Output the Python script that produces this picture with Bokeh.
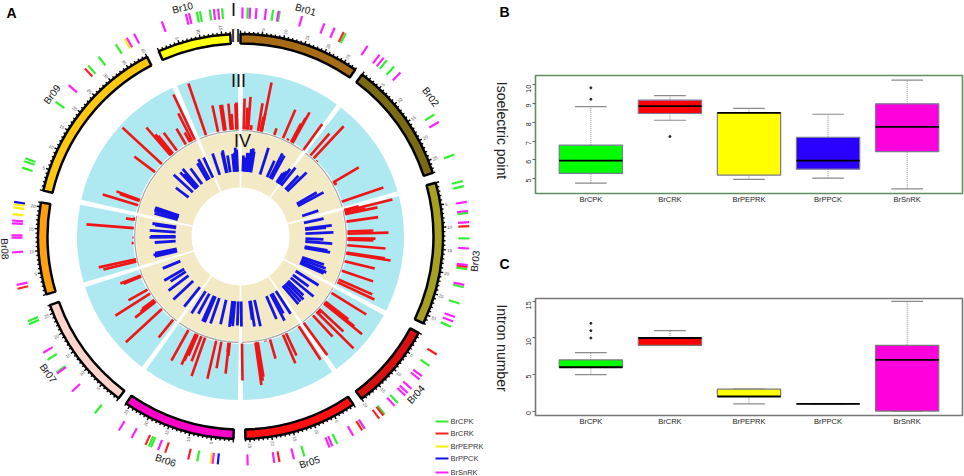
import math
from bokeh.plotting import figure
from bokeh.layouts import row, column
from bokeh.models import FactorRange, FixedTicker
from bokeh.embed import file_html
from bokeh.resources import INLINE
from bokeh.core.properties import value

# ---------- Panel A data ----------
chrom_names = ["Br01","Br02","Br03","Br04","Br05","Br06","Br07","Br08","Br09","Br10"]
chrom_start = [0.0,36.9,74.6,118.4,146.1,182.0,217.0,253.4,283.1,336.2]
chrom_end = [34.5,71.7,115.4,143.3,178.6,214.4,250.2,279.7,332.5,357.1]
chrom_mb = [28,28,32,20,26,26,27,21,40,17]
chrom_colors = ["#a86c14","#7a6a10","#a8a020","#d81010","#ff1010","#ff00c8","#ffd4cc","#ffa010","#ffc810","#ffff10"]
chrom_label_angle = [16,53.7,96,132,163,198.5,234.6,267,307,345.8]
track_gap_centers = [0,37,74.8,117.9,145,180,216.2,252.8,282.1,336.3,360]

red_angle = [341.2,347.9,351.2,352.0,354.8,358.3,357.8,355.8,
    334.7,333.2,329.3,332.3,331.8,323.5,319.2,320.2,320.8,319.7,312.7,307,290,289.4,287,
    279,279.5,274.5,269.5,266.5,257.7,256.5,
    248.6,248.0,240.3,237.7,232.4,233.1,233.7,227.3,219,
    212.8,209.1,204.7,204.3,203.6,199.3,201.4,193.1,190.3,186.2,186.4,185.8,
    179.2,172,171.2,170.7,164,156.6,154.8,166.6,147,
    143.8,137.4,134.7,132.7,128.8,128.3,127.5,121.8,133.9,
    115.2,113.7,108.7,103.4,99.1,98.6,94.7,91.7,90.9,88.5,87.4,82,78,77.4,76.3,75.7,
    71.1,59.7,43.1,40.8,45.4,61,
    36,29.1,28.8,28.2,23.4,18.4,26,11.4,9.4,11.4,10.8,4.1,1.7,3.1,5.6]
red_radius = [161.6,134,133,133,133.5,134,133,123,
    157,138,125.5,112,118,129,144,133,130,128,160.6,133,132,128,144,
    116,109,154.5,108,109,145,141,
    129,126,129,148,133,125,122,156,130,
    107,142,141,136,130,148,134,146,134,138,116,120,
    144,150,146,142,127,138,131.5,108,147,
    147,136,159,140,156,145,136,148,111,
    148,144,140,138,152,146,145.5,133,135,148,133,139,140,128,156.4,122,
    151,137,151,136,108,110,
    139,142,135,128,138,114,109,157,135,126,122,140,138,129,112]

blue_angle = [341.4,348.2,347.5,350.9,354.5,355.8,357.4,356.6,
    334.9,331.4,329.5,323.7,319.5,316.8,317.8,312.8,307,288.8,288.0,287.4,286.8,285,
    278.4,277.6,273.8,270,269.4,266,256.9,258,259,
    247.7,240,237.3,233.1,226.8,218.7,
    212.5,208.6,204.1,202.7,203.4,199,192.8,187,185,186,182,
    179.4,171.2,172,167.5,156.5,152.4,147,150.8,
    139.5,137.3,135,133,129.4,126.3,122,
    114,112.7,110.6,108.6,100,99,94.4,92,87.5,83,84,77.8,
    71.6,62,60,45.9,43.6,38.6,
    36.3,35.4,34.6,33.8,28.5,26.8,24.1,17.5,8.4,9.2,7.2,6.2,4.8,5.6,2.1,3.4]
blue_radius = [87.6,88,86,82,83,84,87,89,
    87,88,85,84.4,89,88,84,91,81,90,90,89,90,89,
    89,86,91,90,91,86,88,89,87,
    84,88,83,90,92,90,
    91,88,93,93,90,92,90,91,90,88,89,
    90,91,84,92,90,95,92,88,
    89,88.5,89,86,94.5,84.4,92,
    91,93,91,88,91,88,92,83,93,92,86,85,
    82,94,88,92,84,88,
    84,80,78,76,92,93,83,93,89,86,88,84,84,80,81,79]

cpk_angle = [349.0,349.8,352.3,355.4,1.8,8.2,9.9,27.4,39.7,42.1,57.8,69,76,77.3,84.1,90.5,98.2,102.8,107,113.2,
    124.4,136.6,141,147.2,155,163.8,190.9,203.0,203.6,219.5,233.5,237.4,247.5,248.3,287.5,289.2,290,306.1,318.3,321.7,327]
crk_angle = [26.8,87.4,97.6,121,142.7,141.4,147.9,170.2,193.2,199.2,204.5,256.8,317.2]
pep_angle = [187.5,275.6,277.3,278.1,329.6]
ppck_angle = [185.7,278.7]
snrk_angle = [339.9,346.2,347,353.3,354.4,0.5,2.4,4,6.4,9.6,15.6,21.5,24.3,33.7,37.4,38.7,44.3,60,81.3,83.6,86.4,93,97.2,102.2,110.6,111.8,
    127.6,128.6,131.7,133.1,134,137.7,147.1,150.5,156.3,157.1,166.5,171.5,178.2,187,201.1,208.4,212.1,227.4,233.2,239.5,257.8,266,
    269.7,270.3,273.3,274,311.4,330.2,332.3]

legend_names = ["BrCPK","BrCRK","BrPEPRK","BrPPCK","BrSnRK"]
legend_colors = ["#30f030","#ff2020","#ffee00","#1010e8","#ff20ff"]
legend_y = [421,433,446,458,472]

# ---------- Panels B / C data ----------
families = ["BrCPK","BrCRK","BrPEPRK","BrPPCK","BrSnRK"]
box_colors = ["#00ff00","#ff0000","#ffff00","#2a00ff","#ff00dc"]
pi_low = [4.75,8.11,4.95,5.02,4.45]
pi_q1 = [5.27,8.47,5.18,5.50,6.44]
pi_med = [5.96,8.86,8.50,5.96,7.76]
pi_q3 = [6.78,9.18,8.52,7.20,8.99]
pi_high = [8.84,9.43,8.74,8.43,10.25]
pi_out_family = ["BrCPK","BrCPK","BrCRK"]
pi_out_value = [9.23,9.84,7.24]
pi_ticks = [5,6,7,8,9,10]

in_low = [5,9,1,1,0]
in_q1 = [6,9,2,1,0]
in_med = [6,10,2,1,7]
in_q3 = [7,10,3,1,9]
in_high = [8,11,3,1,15]
in_out_family = ["BrCPK","BrCPK","BrCPK"]
in_out_value = [10,11,12]
in_ticks = [0,5,10,15]

side_titles = ["Isoelectric point", "Intron number"]
side_letters = ["B", "C"]

# ---------- helpers ----------
def polar(theta, r):
    a = math.radians(theta)
    return r * math.sin(a), r * math.cos(a)

def radial(fig, angles, r0, r1s, color, width):
    x0, y0, x1, y1 = [], [], [], []
    for i, t in enumerate(angles):
        r1 = r1s[i] if isinstance(r1s, list) else r1s
        a, b = polar(t, r0)
        c, d = polar(t, r1)
        x0.append(a); y0.append(b); x1.append(c); y1.append(d)
    fig.segment(x0, y0, x1, y1, line_color=color, line_width=width)

# ---------- Panel A ----------
pa = figure(width=490, height=476, x_range=(-240, 250), y_range=(-240, 236),
            output_backend="svg", toolbar_location=None, min_border=0)
pa.axis.visible = False
pa.grid.visible = False
pa.outline_line_color = None

half_gap = 0.9
t_start = [track_gap_centers[i] + half_gap for i in range(10)]
t_end = [track_gap_centers[i + 1] - half_gap for i in range(10)]
tm_start = [math.radians(90 - e) for e in t_end]
tm_end = [math.radians(90 - s) for s in t_start]
pa.annular_wedge(0, 0, inner_radius=107.5, outer_radius=163.5, start_angle=tm_start, end_angle=tm_end,
                 fill_color="#aee9f1", line_color=None)
pa.annular_wedge(0, 0, inner_radius=49, outer_radius=104.5, start_angle=tm_start, end_angle=tm_end,
                 fill_color="#f3e9c4", line_color=None)
pa.arc(0, 0, radius=105.8, start_angle=tm_start, end_angle=tm_end, line_color="#a8a8a8", line_width=1.3)

radial(pa, red_angle, 107, red_radius, "#f01414", 2.6)
radial(pa, blue_angle, 65, blue_radius, "#1414e6", 2.8)

cm_start = [math.radians(90 - e) for e in chrom_end]
cm_end = [math.radians(90 - s) for s in chrom_start]
pa.annular_wedge(0, 0, inner_radius=193, outer_radius=202.5, start_angle=cm_start, end_angle=cm_end,
                 fill_color=chrom_colors, line_color="black", line_width=2.5)

tick_minor, tick_major, lab_x, lab_y, lab_t, lab_a, lab_al = [], [], [], [], [], [], []
for s, e, mb in zip(chrom_start, chrom_end, chrom_mb):
    for m in range(0, mb + 1):
        t = s + (e - s) * m / mb
        if m % 5 == 0:
            tick_major.append(t)
            if m > 0:
                x, y = polar(t, 207)
                lab_x.append(x); lab_y.append(y); lab_t.append(str(m))
                if t < 180:
                    lab_a.append(math.radians(90 - t)); lab_al.append("left")
                else:
                    lab_a.append(math.radians(270 - t)); lab_al.append("right")
        else:
            tick_minor.append(t)
radial(pa, tick_minor, 202.5, 205, "black", 1.4)
radial(pa, tick_major, 202.5, 206, "black", 1.4)
pa.text(lab_x, lab_y, text=lab_t, angle=lab_a, text_align=lab_al, text_baseline="middle",
        text_font=value("Liberation Sans"), text_font_size="4.5px", text_color="#555555")

radial(pa, cpk_angle, 218, 229, legend_colors[0], 2.2)
radial(pa, crk_angle, 218, 229, legend_colors[1], 2.2)
radial(pa, pep_angle, 218, 229, legend_colors[2], 2.2)
radial(pa, ppck_angle, 218, 229, legend_colors[3], 2.2)
radial(pa, snrk_angle, 218, 229, legend_colors[4], 2.2)

nx, ny, na = [], [], []
for t in chrom_label_angle:
    x, y = polar(t, 236)
    nx.append(x); ny.append(y)
    na.append(math.radians(-t if (t < 90 or t > 270) else 180 - t))
pa.text(nx, ny, text=chrom_names, angle=na, text_align="center", text_baseline="middle",
        text_font=value("Liberation Sans"), text_font_size="10px", text_color="#111111")

pa.text([-7, -5, -2, 2], [227, 201, 156, 96], text=["I", "II", "III", "IV"], text_align="center",
        text_baseline="middle", text_font=value("Liberation Sans"), text_font_size="18px", text_color="#111111")
pa.text([-229], [224], text=["A"], text_align="center", text_baseline="middle",
        text_font=value("Liberation Sans"), text_font_size="14px", text_font_style="bold", text_color="black")

pa.segment([195] * 5, [236 - v for v in legend_y], [208] * 5, [236 - v for v in legend_y],
           line_color=legend_colors, line_width=2)
pa.text([210] * 5, [236 - v for v in legend_y], text=legend_names, text_baseline="middle",
        text_font=value("Liberation Sans"), text_font_size="7.5px", text_color="#333333")

# ---------- strip holding the titles of panels B and C ----------
strip = figure(width=30, height=476, x_range=(0, 30), y_range=(476, 0),
               output_backend="svg", toolbar_location=None, min_border=0)
strip.axis.visible = False
strip.grid.visible = False
strip.outline_line_color = None
strip.text([11, 11], [130, 347.5], text=side_titles, angle=-math.pi / 2, text_align="center",
           text_baseline="middle", text_font=value("Liberation Sans"), text_font_size="14px",
           text_color="#222222")
strip.text([14, 14], [11, 263], text=side_letters, text_align="center", text_baseline="middle",
           text_font=value("Liberation Sans"), text_font_size="14px", text_font_style="bold",
           text_color="black")

# ---------- box panels ----------
def box_panel(height, y_range, border_top, border_bottom, ticks, low, q1, med, q3, high,
              ofam, oval, outline, box_line):
    p = figure(width=444, height=height, output_backend="svg", toolbar_location=None,
               x_range=FactorRange(factors=families, range_padding=0.08, range_padding_units="percent"),
               y_range=y_range, min_border_left=14, min_border_right=2,
               min_border_top=border_top, min_border_bottom=border_bottom)
    p.grid.visible = False
    p.outline_line_color = outline
    p.outline_line_width = 1.6
    p.xaxis.axis_line_color = None
    p.yaxis.axis_line_color = None
    p.xaxis.major_tick_line_color = None
    p.xaxis.minor_tick_line_color = None
    p.xaxis.major_tick_out = 0
    p.xaxis.major_tick_in = 0
    p.yaxis.minor_tick_line_color = None
    p.yaxis.major_tick_line_color = "#666666"
    p.yaxis.major_tick_out = 3
    p.yaxis.major_tick_in = 0
    p.yaxis.ticker = FixedTicker(ticks=ticks)
    p.yaxis.major_label_orientation = math.pi / 2
    p.yaxis.major_label_standoff = 4
    p.yaxis.major_label_text_font = "Liberation Sans"
    p.yaxis.major_label_text_font_size = "7px"
    p.yaxis.major_label_text_color = "#222222"
    p.xaxis.major_label_standoff = 1
    p.xaxis.major_label_text_font = "Liberation Sans"
    p.xaxis.major_label_text_font_size = "7.5px"
    p.xaxis.major_label_text_color = "#222222"
    p.segment(families, low, families, q1, line_color="#8a8a8a", line_dash="1 1", line_width=1)
    p.segment(families, q3, families, high, line_color="#8a8a8a", line_dash="1 1", line_width=1)
    p.segment([(f, -0.2) for f in families], low, [(f, 0.2) for f in families], low,
              line_color="#8a8a8a", line_width=1.2)
    p.segment([(f, -0.2) for f in families], high, [(f, 0.2) for f in families], high,
              line_color="#8a8a8a", line_width=1.2)
    p.vbar(x=families, width=0.8, bottom=q1, top=q3, fill_color=box_colors,
           line_color=box_line, line_width=1.2)
    p.segment([(f, -0.4) for f in families], med, [(f, 0.4) for f in families], med,
              line_color="black", line_width=1.8)
    p.scatter(ofam, oval, size=2.0, color="#222222")
    return p

pb = box_panel(238, (4.2, 10.5), 75, 45, pi_ticks, pi_low, pi_q1, pi_med, pi_q3, pi_high,
               pi_out_family, pi_out_value, "#5f8f5f", "#7a7a9a")
pc = box_panel(238, (-0.6, 15.4), 60, 61, in_ticks, in_low, in_q1, in_med, in_q3, in_high,
               in_out_family, in_out_value, "#777777", "#7a7a7a")

layout = row(pa, strip, column(pb, pc, spacing=0), spacing=0)
open("out.html", "w").write(file_html(layout, INLINE))
